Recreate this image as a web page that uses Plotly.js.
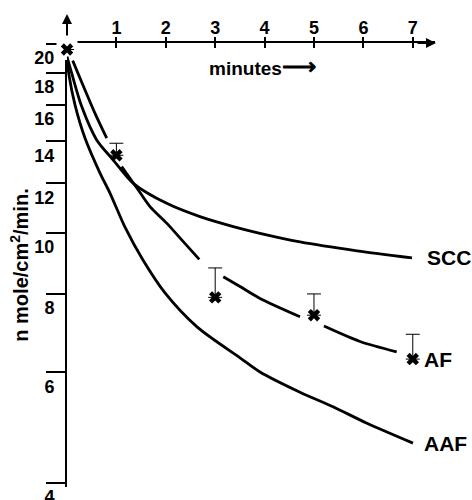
<!DOCTYPE html>
<html><head><meta charset="utf-8">
<script src="https://cdn.plot.ly/plotly-3.0.1.min.js"></script>
<style>html,body{margin:0;padding:0;background:#fff}#chart{width:472px;height:500px}</style>
</head><body><div id="chart"></div>
<script>
// ---- data ----
const sccT = [0, 0.095, 0.298, 0.601, 0.937, 1.342, 2.018, 2.692, 3.366, 3.907, 4.717, 5.870, 6.984];
const sccV = [19.1, 17.97, 15.90, 14.07, 13.07, 12.00, 11.15, 10.62, 10.24, 9.99, 9.68, 9.37, 9.13];
const aafT = [0, 0.040, 0.162, 0.364, 0.668, 0.870, 1.174, 1.538, 1.984, 2.632, 3.502, 3.907, 4.717, 5.385, 6.073, 7.004];
const aafV = [19.0, 17.85, 16.0, 14.17, 12.46, 11.58, 10.22, 9.06, 8.03, 7.09, 6.33, 6.01, 5.58, 5.29, 4.98, 4.63];
const afLineT = [0.115, 0.364, 0.567, 0.804, null, 1.107, 1.443, 1.680, 2.018, 2.354, 2.678, null, 3.164, 3.502, 3.907, 4.717, null, 5.202, 5.931, 6.674];
const afLineV = [18.82, 16.90, 15.51, 14.16, null, 12.76, 11.71, 11.02, 10.37, 9.69, 9.08, null, 8.52, 8.22, 7.87, 7.36, null, 7.11, 6.72, 6.47];
const afT = [0, 1, 3, 5, 7];
const afV = [19.6, 13.3, 7.9, 7.4, 6.3];
const afErrUp = [null, 0.6, 0.9, 0.6, 0.6];
const curveNames = ['SCC', 'AF', 'AAF'];
const xTickVals = [1, 2, 3, 4, 5, 6, 7];
const yTickVals = [4, 6, 8, 10, 12, 14, 16, 18, 20];
const xTitle = 'minutes<span style="font-size:24px">\u27F6</span>';
const yTitle = 'n mole/cm<sup>2</sup>/min.';

const FONT = 'Liberation Sans, Arial, sans-serif';
const lineStyle = {color: '#000', width: 2.8, shape: 'spline', smoothing: 0.8};
const boldFont = (s) => ({family: FONT, size: s, color: '#000', weight: 'bold'});

const traces = [
  // white patch where the axes are interrupted around the first cross
  {x: [afT[0]], y: [afV[0]], mode: 'markers', hoverinfo: 'skip', showlegend: false, cliponaxis: false,
   marker: {symbol: 'square', size: 21, color: '#fff', line: {width: 0}}},
  {x: sccT, y: sccV, mode: 'lines', name: curveNames[0], line: lineStyle, showlegend: false},
  {x: aafT, y: aafV, mode: 'lines', name: curveNames[2], line: lineStyle, showlegend: false},
  {x: afLineT, y: afLineV, mode: 'lines', name: curveNames[1], line: lineStyle, connectgaps: false, showlegend: false},
  {x: afT, y: afV, mode: 'markers', name: curveNames[1] + ' data', showlegend: false, cliponaxis: false,
   marker: {symbol: 'x', size: 11, color: '#000', line: {width: 0}},
   error_y: {type: 'data', symmetric: false, array: afErrUp, arrayminus: afErrUp.map(() => 0),
             color: '#000', thickness: 1, width: 7}},
  // empty helper traces so the tick-only overlay axes get drawn
  {x: [], y: [], xaxis: 'x2', yaxis: 'y', mode: 'markers', hoverinfo: 'skip', showlegend: false},
  {x: [], y: [], xaxis: 'x', yaxis: 'y2', mode: 'markers', hoverinfo: 'skip', showlegend: false}
];

const xRange = [0, 7.45];
const yRange = [0.59569, 1.30262];

const layout = {
  width: 472, height: 500,
  margin: {l: 67, r: 37, t: 43, b: 13},
  paper_bgcolor: '#fff', plot_bgcolor: 'rgba(0,0,0,0)',
  font: {family: FONT, color: '#000', size: 18},
  showlegend: false,
  xaxis: {
    range: xRange, side: 'top', showgrid: false, zeroline: false,
    showline: true, linecolor: '#000', linewidth: 2, layer: 'below traces',
    tickmode: 'array', tickvals: xTickVals, ticktext: xTickVals.map(String),
    ticks: 'inside', ticklen: 5, tickwidth: 2, tickcolor: '#000',
    ticklabelstandoff: 0,
    tickfont: boldFont(18)
  },
  xaxis2: {
    range: xRange, overlaying: 'x', anchor: 'y', side: 'top', showgrid: false, zeroline: false,
    showline: false, layer: 'below traces',
    tickmode: 'array', tickvals: xTickVals, showticklabels: false,
    ticks: 'outside', ticklen: 5, tickwidth: 2, tickcolor: '#000'
  },
  yaxis: {
    type: 'log', range: yRange, showgrid: false, zeroline: false,
    showline: true, linecolor: '#000', linewidth: 2, layer: 'below traces',
    tickmode: 'array', tickvals: yTickVals, ticktext: yTickVals.map(String),
    ticks: '', ticklabelstandoff: 7, ticklabelshift: 14, ticklabeloverflow: 'allow',
    tickfont: boldFont(18),
    title: {text: yTitle, standoff: 0, font: boldFont(20)}
  },
  yaxis2: {
    type: 'log', range: yRange, overlaying: 'y', anchor: 'x', side: 'left', showgrid: false, zeroline: false,
    showline: false, layer: 'below traces',
    tickmode: 'array', tickvals: yTickVals, showticklabels: false,
    ticks: 'outside', ticklen: 20, tickwidth: 2, tickcolor: '#000'
  },
  annotations: [
    // axis arrows
    {xref: 'x', yref: 'paper', x: 0, y: 1 + 29 / 444, ax: 0, ay: 23, axref: 'pixel', ayref: 'pixel',
     showarrow: true, arrowhead: 2, arrowsize: 1, arrowwidth: 2, arrowcolor: '#000', text: ''},
    {xref: 'paper', yref: 'paper', x: 1 + 1 / 368, y: 1, ax: -20, ay: 0,
     showarrow: true, arrowhead: 2, arrowsize: 1, arrowwidth: 2, arrowcolor: '#000', text: ''},
    // x axis title
    {xref: 'paper', yref: 'paper', x: 0.531, y: 0.948, showarrow: false, text: xTitle,
     xanchor: 'center', yanchor: 'middle', font: boldFont(19)},
    // curve labels
    {xref: 'x', yref: 'y', x: sccT[sccT.length - 1], y: Math.log10(sccV[sccV.length - 1]), xshift: 13,
     xanchor: 'left', yanchor: 'middle', showarrow: false, text: curveNames[0], font: boldFont(21)},
    {xref: 'x', yref: 'y', x: afT[afT.length - 1], y: Math.log10(afV[afV.length - 1]), xshift: 9,
     xanchor: 'left', yanchor: 'middle', showarrow: false, text: curveNames[1], font: boldFont(21)},
    {xref: 'x', yref: 'y', x: aafT[aafT.length - 1], y: Math.log10(aafV[aafV.length - 1]), xshift: 9,
     xanchor: 'left', yanchor: 'middle', showarrow: false, text: curveNames[2], font: boldFont(21)}
  ]
};

Plotly.newPlot('chart', traces, layout, {displayModeBar: false, staticPlot: true});
</script>
</body></html>
